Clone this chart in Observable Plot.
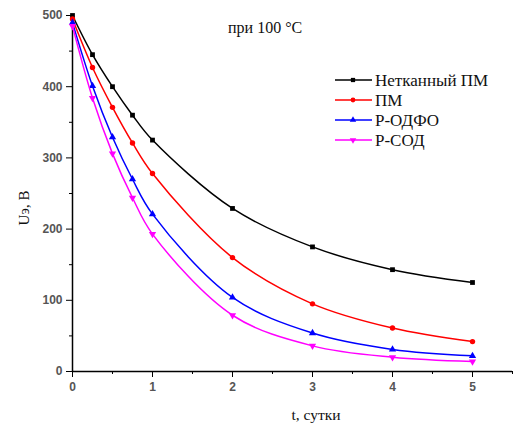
<!DOCTYPE html>
<html>
<head>
<meta charset="utf-8">
<script src="https://cdn.jsdelivr.net/npm/d3@7"></script>
<script src="https://cdn.jsdelivr.net/npm/@observablehq/plot@0.6"></script>
<style>
  body { margin: 0; background: #fff; }
  #wrap { position: relative; width: 515px; height: 425px; }
  .serif { font-family: "Liberation Serif", "DejaVu Serif", serif; color: #111; position: absolute; white-space: nowrap; }
  #title { left: 228px; top: 19px; font-size: 16px; }
  #xlabel { left: 316px; top: 415px; font-size: 15.5px; transform: translate(-50%, -50%); }
  #ylabel { left: 24px; top: 208px; font-size: 15px; transform: translate(-50%, -50%) rotate(-90deg); }
  #legend { position: absolute; left: 330px; top: 70px; }
</style>
</head>
<body>
<div id="wrap">
  <div id="chart"></div>
  <div id="title" class="serif">при 100 °C</div>
  <div id="xlabel" class="serif">t, сутки</div>
  <div id="ylabel" class="serif">Uэ, В</div>
  <div id="legend"></div>
</div>
<script>
const t = [0, 0.25, 0.5, 0.75, 1, 2, 3, 4, 5];
const seriesNames = ["Нетканный ПМ", "ПМ", "Р-ОДФО", "Р-СОД"];
const seriesColors = ["#000000", "#ff0000", "#0000ff", "#ff00ff"];
const netkanny = [500, 445, 400, 360, 325, 229, 175, 143, 125];
const pm = [495, 427, 371, 321, 278, 160, 95, 61, 42];
const rodfo = [490, 401, 329, 270, 221, 104, 54, 31, 22];
const rsod = [485, 384, 306, 244, 193, 79, 36, 20, 14];
const xTicks = [0, 1, 2, 3, 4, 5];
const xMinor = [0.5, 1.5, 2.5, 3.5, 4.5, 5.5];
const yTicks = [0, 100, 200, 300, 400, 500];
const yMinor = [50, 150, 250, 350, 450];

const triangleDown = {
  draw(ctx, size) {
    const y = Math.sqrt(size / (Math.sqrt(3) * 3));
    ctx.moveTo(0, 2 * y);
    ctx.lineTo(-Math.sqrt(3) * y, -y);
    ctx.lineTo(Math.sqrt(3) * y, -y);
    ctx.closePath();
  }
};
const seriesSymbols = ["square", "circle", "triangle", triangleDown];
const seriesValues = [netkanny, pm, rodfo, rsod];

const data = [];
seriesNames.forEach((name, i) => {
  t.forEach((tv, j) => data.push({ series: name, t: tv, u: seriesValues[i][j], idx: i }));
});

const tickFont = { fontFamily: "Liberation Sans, Arial, sans-serif", fontSize: 12, fill: "#555", fontWeight: "bold" };

const marks = [
  Plot.axisX({ ticks: xTicks, tickSize: 6, tickPadding: 5, tickFormat: d3.format("d"), label: null, ...tickFont }),
  Plot.axisX({ ticks: xMinor, tickSize: 3, tickFormat: () => "", label: null }),
  Plot.axisY({ ticks: yTicks, tickSize: 6, tickPadding: 4, tickFormat: d3.format("d"), label: null, ...tickFont }),
  Plot.axisY({ ticks: yMinor, tickSize: 3, tickFormat: () => "", label: null }),
  Plot.ruleY([0], { stroke: "#000", strokeWidth: 1.5 }),
  Plot.ruleX([0], { stroke: "#000", strokeWidth: 1.5 })
];
seriesNames.forEach((name, i) => {
  const d = data.filter(r => r.series === name);
  marks.push(Plot.line(d, { x: "t", y: "u", stroke: seriesColors[i], strokeWidth: 1.5, curve: "catmull-rom" }));
  marks.push(Plot.dot(d, { x: "t", y: "u", fill: seriesColors[i], stroke: "none", symbol: () => seriesSymbols[i], r: 2.7 }));
});

const chart = Plot.plot({
  width: 515,
  height: 425,
  marginLeft: 72,
  marginRight: 3,
  marginTop: 15,
  marginBottom: 54,
  x: { domain: [0, 5.5] },
  y: { domain: [0, 500] },
  symbol: { type: "identity" },
  style: { background: "transparent", overflow: "visible" },
  marks
});
document.getElementById("chart").appendChild(chart);

// legend
const leg = d3.select("#legend").append("svg").attr("width", 185).attr("height", 85);
seriesNames.forEach((name, i) => {
  const g = leg.append("g").attr("transform", `translate(0, ${10 + i * 20})`);
  g.append("line").attr("x1", 5).attr("x2", 42).attr("y1", 0).attr("y2", 0)
    .attr("stroke", seriesColors[i]).attr("stroke-width", 1.5);
  g.append("path").attr("transform", "translate(23,0)")
    .attr("d", d3.symbol(typeof seriesSymbols[i] === "string"
      ? { square: d3.symbolSquare, circle: d3.symbolCircle, triangle: d3.symbolTriangle }[seriesSymbols[i]]
      : seriesSymbols[i], 18)())
    .attr("fill", seriesColors[i]);
  g.append("text").attr("x", 45).attr("y", 6).text(name)
    .attr("font-family", "Liberation Serif, DejaVu Serif, serif").attr("font-size", 17).attr("fill", "#111");
});
</script>
</body>
</html>
